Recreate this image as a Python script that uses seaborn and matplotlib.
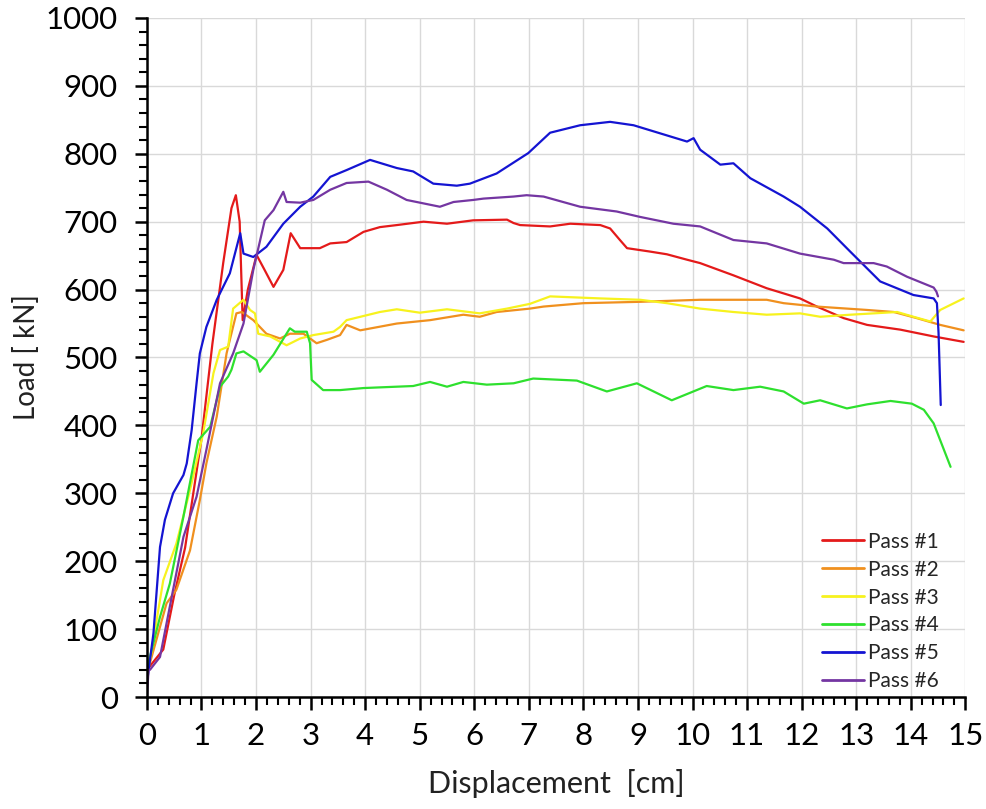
import numpy as np
import pandas as pd
import matplotlib
matplotlib.use("Agg")
import matplotlib.pyplot as plt
import seaborn as sns
from matplotlib.ticker import MultipleLocator

# ---- data ----
p1_x = [0.0, 0.05, 0.3, 0.5, 0.7, 1.0, 1.2, 1.4, 1.55, 1.63, 1.7, 1.755, 1.85, 2.01, 2.15, 2.32, 2.5, 2.635,
        2.81, 3.17, 3.36, 3.66, 3.97, 4.27, 4.58, 5.07, 5.5, 5.98, 6.6, 6.72, 6.84, 7.39, 7.76, 8.31, 8.49,
        8.67, 8.8, 9.22, 9.53, 9.9, 10.14, 10.75, 11.36, 11.97, 12.28, 12.77, 13.2, 13.81, 14.42, 14.97]
p1_y = [40, 45, 70, 150, 220, 380, 520, 640, 720, 739, 700, 555, 600, 651, 630, 604, 629, 683,
        661, 661, 668, 670, 685, 692, 695, 700, 697, 702, 703, 698, 695, 693, 697, 695, 690,
        673, 661, 656, 652, 644, 639, 621, 602, 587, 575, 558, 548, 541, 531, 523]

p2_x = [0.0, 0.055, 0.36, 0.54, 0.79, 0.97, 1.09, 1.28, 1.46, 1.52, 1.64, 1.74, 1.95, 2.19, 2.44, 2.62,
        2.87, 3.11, 3.3, 3.54, 3.66, 3.91, 4.58, 5.19, 5.8, 6.1, 6.41, 7.02, 7.27, 8.0, 9.04, 10.14,
        11.36, 11.67, 12.28, 13.2, 13.69, 14.11, 14.54, 14.97]
p2_y = [35, 50, 138, 158, 216, 290, 344, 413, 506, 526, 565, 567, 555, 535, 528, 535,
        535, 521, 526, 533, 548, 540, 550, 555, 563, 560, 567, 572, 575, 580, 582, 585,
        585, 580, 575, 570, 567, 558, 548, 540]

p3_x = [0.0, 0.055, 0.3, 0.54, 0.79, 1.03, 1.22, 1.34, 1.49, 1.58, 1.77, 1.89, 1.98, 2.04, 2.26, 2.56,
        2.81, 3.05, 3.42, 3.54, 3.66, 4.27, 4.58, 5.0, 5.5, 6.1, 6.6, 7.02, 7.39, 8.31, 9.04, 9.53,
        10.14, 10.75, 11.36, 11.97, 12.34, 12.89, 13.75, 14.05, 14.36, 14.54, 14.97]
p3_y = [40, 54, 172, 226, 305, 388, 477, 511, 516, 572, 585, 570, 565, 535, 531, 518,
        528, 533, 538, 545, 555, 567, 571, 566, 571, 565, 572, 579, 590, 587, 585, 580,
        572, 567, 563, 565, 560, 563, 567, 560, 553, 570, 587]

p4_x = [0.0, 0.055, 0.24, 0.42, 0.67, 0.94, 1.16, 1.34, 1.49, 1.55, 1.64, 1.77, 2.01, 2.07, 2.32, 2.62,
        2.71, 2.93, 2.99, 3.02, 3.23, 3.54, 3.97, 4.27, 4.88, 5.19, 5.5, 5.8, 6.23, 6.72, 7.08, 7.88,
        8.43, 8.98, 9.62, 10.26, 10.75, 11.24, 11.67, 12.04, 12.34, 12.83, 13.2, 13.63, 14.02, 14.24,
        14.42, 14.73]
p4_y = [40, 59, 118, 167, 266, 378, 398, 457, 472, 482, 506, 509, 496, 479, 504, 543,
        538, 538, 521, 467, 452, 452, 455, 456, 458, 464, 457, 464, 460, 462, 469, 466,
        450, 462, 437, 458, 452, 457, 450, 432, 437, 425, 431, 436, 432, 423,
        403, 339]

p5_x = [0.0, 0.12, 0.24, 0.33, 0.48, 0.67, 0.73, 0.82, 0.91, 0.97, 1.09, 1.28, 1.52, 1.71, 1.77, 1.95,
        2.19, 2.5, 2.81, 3.05, 3.36, 3.66, 4.09, 4.58, 4.88, 5.25, 5.68, 5.92, 6.41, 6.99, 7.39, 7.94,
        8.49, 8.92, 9.41, 9.9, 10.02, 10.14, 10.51, 10.75, 11.06, 11.67, 11.97, 12.47, 12.89, 13.44,
        14.05, 14.42, 14.48, 14.51, 14.55]
p5_y = [20, 94, 221, 261, 300, 327, 344, 393, 462, 506, 545, 585, 624, 683, 653, 648,
        663, 697, 722, 737, 766, 776, 791, 779, 774, 756, 753, 756, 771, 801, 831, 842,
        847, 842, 830, 818, 823, 806, 784, 786, 764, 737, 722, 690, 656, 612,
        592, 587, 580, 536, 430]

p6_x = [0.0, 0.03, 0.055, 0.24, 0.48, 0.67, 0.91, 1.09, 1.34, 1.58, 1.77, 1.95, 2.16, 2.32, 2.5, 2.56,
        2.81, 3.05, 3.36, 3.66, 4.06, 4.4, 4.76, 5.37, 5.62, 5.98, 6.17, 6.72, 6.96, 7.27, 7.94, 8.61,
        9.04, 9.65, 10.14, 10.75, 11.36, 11.97, 12.59, 12.77, 13.32, 13.56, 13.93, 14.42, 14.47, 14.5]
p6_y = [0, 40, 40, 59, 158, 236, 295, 364, 462, 506, 550, 629, 702, 717, 744, 729,
        728, 732, 747, 757, 759, 747, 732, 722, 729, 732, 734, 737, 739, 737, 722, 715,
        707, 697, 693, 673, 668, 653, 644, 639, 639, 634, 619, 603, 597, 590]

series_names = ["Pass #1", "Pass #2", "Pass #3", "Pass #4", "Pass #5", "Pass #6"]
xs = [p1_x, p2_x, p3_x, p4_x, p5_x, p6_x]
ys = [p1_y, p2_y, p3_y, p4_y, p5_y, p6_y]
colors = ["#e41a1a", "#f0901e", "#f7f21e", "#2ee02e", "#1414d2", "#7436a2"]

x_ticks = list(range(0, 16))
y_ticks = list(range(0, 1001, 100))

frames = []
for name, x, y in zip(series_names, xs, ys):
    frames.append(pd.DataFrame({"x": x, "y": y, "series": name, "order": np.arange(len(x))}))
df = pd.concat(frames, ignore_index=True)

# ---- plot ----
sns.set_theme(style="white")
plt.rcParams["font.family"] = ["Lato", "DejaVu Sans"]

fig = plt.figure(figsize=(9.86, 8.09), dpi=100)
ax = fig.add_axes([0.149, 0.1384, 0.830, 0.8394])

palette = dict(zip(series_names, colors))
sns.lineplot(data=df, x="x", y="y", hue="series", hue_order=series_names, palette=palette,
             sort=False, estimator=None, units="series", linewidth=1.6, ax=ax)

ax.set_xlim(0, 15)
ax.set_ylim(0, 1000)
ax.set_xticks(x_ticks)
ax.set_yticks(y_ticks)
ax.xaxis.set_minor_locator(MultipleLocator(0.2))
ax.yaxis.set_minor_locator(MultipleLocator(20))
ax.grid(True, which="major", color="#d9d9d9", linewidth=1.0)
ax.set_axisbelow(True)

for s in ["top", "right"]:
    ax.spines[s].set_visible(False)
for s in ["left", "bottom"]:
    ax.spines[s].set_color("black")
    ax.spines[s].set_linewidth(1.8)

ax.tick_params(axis="both", which="major", direction="out", length=9, width=1.8,
               color="black", labelsize=22.5, labelcolor="black", left=True, bottom=True)
ax.tick_params(axis="y", which="major", pad=12)
ax.tick_params(axis="x", which="major", pad=9)
ax.tick_params(axis="both", which="minor", direction="out", length=6, width=1.5,
               color="black", left=True, bottom=True)

ax.set_xlabel("Displacement  [cm]", fontsize=22, color="#222222", labelpad=14)
ax.set_ylabel("Load [ kN]", fontsize=20, color="#222222", labelpad=4)

leg = ax.legend(loc="lower right", bbox_to_anchor=(0.985, -0.013), frameon=False, fontsize=15,
                handlelength=2.0, handletextpad=0.2, labelspacing=0.38, borderaxespad=0.3)
for h in leg.get_lines():
    h.set_linewidth(2.0)

fig.savefig("out.png", dpi=100)
